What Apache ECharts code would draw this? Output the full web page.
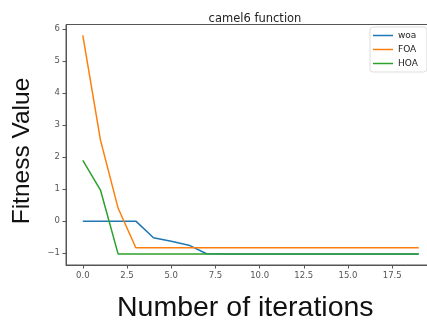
<!DOCTYPE html>
<html>
<head>
<meta charset="utf-8">
<script src="https://cdn.jsdelivr.net/npm/echarts@6/dist/echarts.min.js"></script>
<style>
  html, body { margin: 0; padding: 0; background: #fff; }
  #chart { width: 427px; height: 327px; }
</style>
</head>
<body>
<div id="chart"></div>
<script>
// iteration index and best fitness per iteration for each optimizer
const iterations = [0, 1, 2, 3, 4, 5, 6, 7, 8, 9, 10, 11, 12, 13, 14, 15, 16, 17, 18, 19];
const woa = [0, 0, 0, 0, -0.52, -0.63, -0.75, -1.02, -1.03, -1.03, -1.03, -1.03, -1.03, -1.03, -1.03, -1.03, -1.03, -1.03, -1.03, -1.03];
const foa = [5.8, 2.53, 0.4, -0.83, -0.83, -0.83, -0.83, -0.83, -0.83, -0.83, -0.83, -0.83, -0.83, -0.83, -0.83, -0.83, -0.83, -0.83, -0.83, -0.83];
const hoa = [1.9, 0.97, -1.03, -1.03, -1.03, -1.03, -1.03, -1.03, -1.03, -1.03, -1.03, -1.03, -1.03, -1.03, -1.03, -1.03, -1.03, -1.03, -1.03, -1.03];

const xTicks = [0, 2.5, 5, 7.5, 10, 12.5, 15, 17.5];
const yTicks = [-1, 0, 1, 2, 3, 4, 5, 6];

const pair = (ys) => iterations.map((x, i) => [x, ys[i]]);

const tickFont = { fontFamily: 'DejaVu Sans', fontSize: 8.5, color: '#555' };
const nameFont = { fontFamily: 'Liberation Sans', fill: '#111' };

const chart = echarts.init(document.getElementById('chart'), null, { renderer: 'canvas' });
chart.setOption({
  animation: false,
  backgroundColor: '#fff',
  title: {
    text: 'camel6 function',
    left: 250,
    top: 8,
    textAlign: 'center',
    textStyle: { fontFamily: 'DejaVu Sans', fontSize: 11.5, fontWeight: 'normal', color: '#222' }
  },
  // plot box runs past the right edge of the canvas
  grid: {
    left: 66, top: 24.5, width: 369.5, height: 240.5,
    outerBoundsMode: 'none',
    containLabel: false,
    show: true, borderColor: '#555', borderWidth: 1, backgroundColor: 'transparent'
  },
  legend: {
    orient: 'vertical',
    left: 370, top: 27,
    backgroundColor: '#fff',
    borderColor: '#ddd', borderWidth: 1, borderRadius: 3,
    padding: [4, 9, 4, 3],
    itemWidth: 20, itemHeight: 1.5, itemGap: 5,
    icon: 'rect',
    textStyle: { fontFamily: 'DejaVu Sans', fontSize: 9, color: '#222' },
    data: ['woa', 'FOA', 'HOA']
  },
  graphic: [
    {
      type: 'text', left: 117, top: 294,
      style: Object.assign({ text: 'Number of iterations', fontSize: 28.5 }, nameFont)
    },
    {
      type: 'text', x: 35, y: 151, rotation: Math.PI / 2,
      style: Object.assign({ text: 'Fitness Value', fontSize: 24.5, align: 'center', verticalAlign: 'bottom' }, nameFont)
    }
  ],
  xAxis: {
    type: 'value',
    min: -0.95, max: 19.95,
    axisLine: { show: true, onZero: false, lineStyle: { color: '#555', width: 1 } },
    axisTick: { show: true, length: 3.5, lineStyle: { color: '#555' }, customValues: xTicks },
    axisLabel: Object.assign({ margin: 6, customValues: xTicks, formatter: (v) => v.toFixed(1) }, tickFont),
    splitLine: { show: false }
  },
  yAxis: {
    type: 'value',
    min: -1.37, max: 6.14,
    axisLine: { show: true, onZero: false, lineStyle: { color: '#555', width: 1 } },
    axisTick: { show: true, length: 3.5, lineStyle: { color: '#555' }, customValues: yTicks },
    axisLabel: Object.assign({ margin: 6, customValues: yTicks, formatter: (v) => (v < 0 ? '\u2212' + Math.abs(v) : String(v)) }, tickFont),
    splitLine: { show: false }
  },
  series: [
    { name: 'woa', type: 'line', data: pair(woa), showSymbol: false, symbol: 'none', lineStyle: { width: 1.5, color: '#1f77b4' }, itemStyle: { color: '#1f77b4' } },
    { name: 'FOA', type: 'line', data: pair(foa), showSymbol: false, symbol: 'none', lineStyle: { width: 1.5, color: '#ff7f0e' }, itemStyle: { color: '#ff7f0e' } },
    { name: 'HOA', type: 'line', data: pair(hoa), showSymbol: false, symbol: 'none', lineStyle: { width: 1.5, color: '#2ca02c' }, itemStyle: { color: '#2ca02c' } }
  ]
});
</script>
</body>
</html>
